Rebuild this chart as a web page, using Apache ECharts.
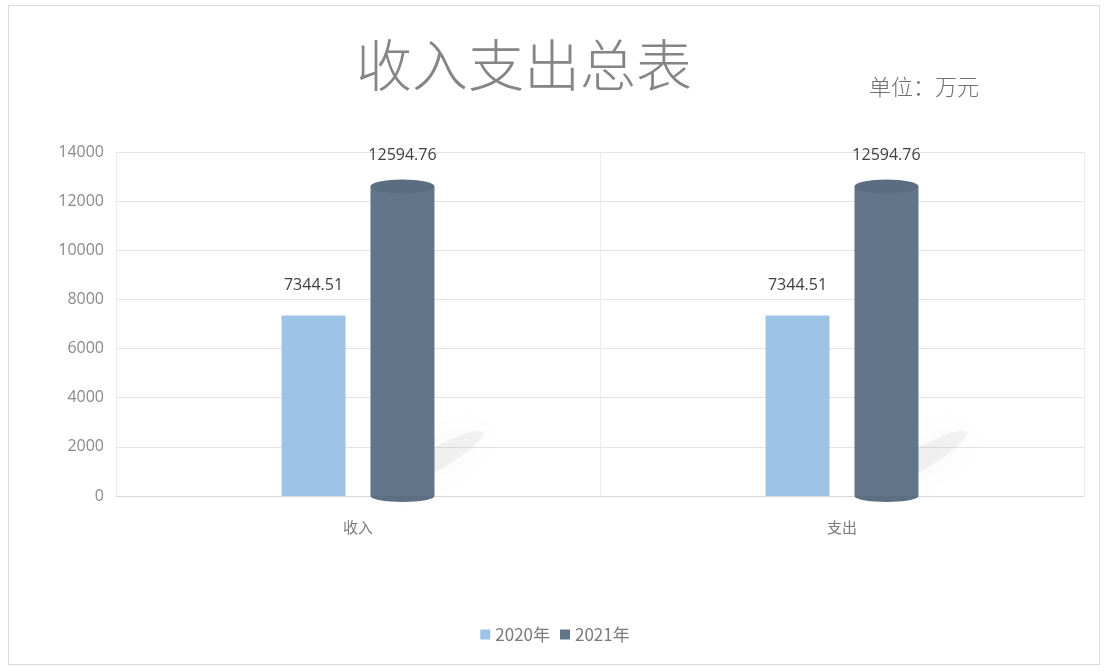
<!DOCTYPE html>
<html><head><meta charset="utf-8">
<script src="https://cdn.jsdelivr.net/npm/echarts@6/dist/echarts.min.js"></script>
<style>
html,body{margin:0;padding:0;background:#fff;}
#frame{position:absolute;left:8px;top:5px;width:1092px;height:660px;border:1px solid #d9d9d9;box-sizing:border-box;}
#c{position:absolute;left:0;top:0;width:1110px;height:672px;}
</style></head>
<body><div id="frame"></div><div id="c"></div>
<script>
const categories = ['收入', '支出'];
const seriesNames = ['2020年', '2021年'];
const values2020 = [7344.51, 7344.51];
const values2021 = [12594.76, 12594.76];
const yTicks = [0, 2000, 4000, 6000, 8000, 10000, 12000, 14000];

const chart = echarts.init(document.getElementById('c'));
const capOffset = '69.5%';
chart.setOption({
  animation: false,
  title: [
    {text: '收入支出总表', left: 519, top: 32, textAlign: 'center',
     textStyle: {fontSize: 56, fontWeight: 300, color: '#858585', fontFamily: 'Noto Sans CJK SC'}},
    {text: '单位：万元', left: 864, top: 71,
     textStyle: {fontSize: 22, fontWeight: 300, color: '#707070', fontFamily: 'Noto Sans CJK SC'}}
  ],
  legend: {
    data: seriesNames, bottom: 24, left: 'center', itemWidth: 10, itemHeight: 10, itemGap: 10,
    icon: 'rect',
    textStyle: {fontSize: 17, color: '#7a7a7a', fontFamily: 'Noto Sans CJK SC'}
  },
  grid: {left: 116, right: 26, top: 152, bottom: 176},
  xAxis: {
    type: 'category', data: categories,
    axisTick: {show: false},
    axisLine: {lineStyle: {color: '#d9d9d9'}},
    axisLabel: {fontSize: 15, color: '#7a7a7a', margin: 24, fontFamily: 'Noto Sans CJK SC'},
    splitLine: {show: true, lineStyle: {color: '#ececec'}}
  },
  yAxis: {
    type: 'value', min: yTicks[0], max: yTicks[yTicks.length - 1], interval: 2000,
    axisLine: {show: false}, axisTick: {show: false},
    axisLabel: {fontSize: 16, color: '#8a8a8a', margin: 12, fontFamily: 'Open Sans',
      formatter: v => String(v)},
    splitLine: {lineStyle: {color: '#e3e3e3'}}
  },
  series: [
    {name: seriesNames[0], type: 'bar', data: values2020, barWidth: 64, barGap: '39%',
     itemStyle: {color: '#9dc3e6'},
     label: {show: true, position: 'top', distance: 22, fontSize: 16, color: '#404040', fontFamily: 'Open Sans'}},
    {name: seriesNames[1], type: 'bar', data: values2021, barWidth: 64, barGap: '39%', z: 3,
     itemStyle: {color: '#637589'},
     label: {show: true, position: 'top', distance: 23, fontSize: 16, color: '#404040', fontFamily: 'Open Sans'}},
    {name: 'shadow', type: 'pictorialBar', data: values2021, symbol: 'circle',
     symbolPosition: 'start', symbolSize: [110, 22], symbolOffset: ['70%', '-115%'], z: 1,
     symbolRotate: 30,
     itemStyle: {color: 'rgba(170,170,170,0.14)', shadowColor: 'rgba(110,110,110,0.4)', shadowBlur: 32},
     silent: true, legendHoverLink: false, tooltip: {show: false}},
    {name: 'bottomCap', type: 'pictorialBar', data: values2021, symbol: 'circle',
     symbolPosition: 'start', symbolSize: [64, 12], symbolOffset: [capOffset, '50%'], z: 2,
     itemStyle: {color: '#5d6f83'}, silent: true},
    {name: 'topCap', type: 'pictorialBar', data: values2021, symbol: 'circle',
     symbolPosition: 'end', symbolSize: [64, 14], symbolOffset: [capOffset, '-50%'], z: 4,
     itemStyle: {color: '#5b6d81'}, silent: true}
  ]
});
</script></body></html>
